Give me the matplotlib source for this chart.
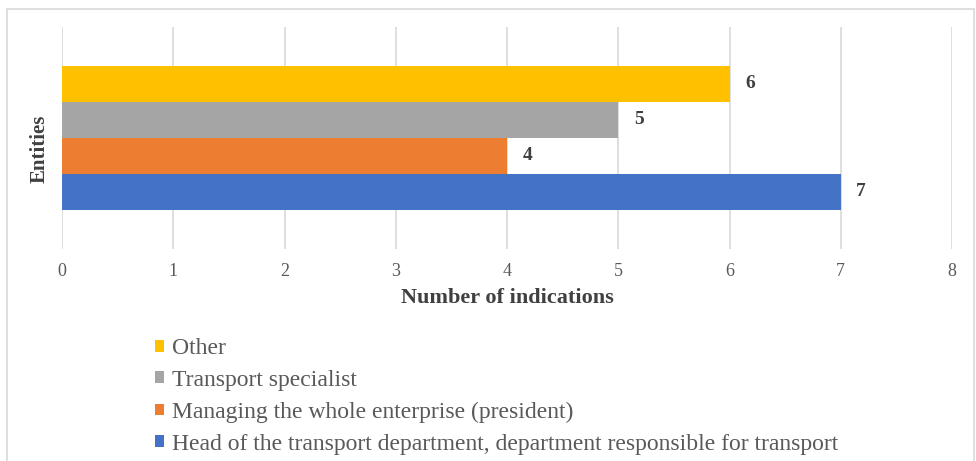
import matplotlib
matplotlib.use("Agg")
import matplotlib.pyplot as plt
from matplotlib.patches import Rectangle

plt.rcParams['font.family'] = ['Liberation Serif', 'DejaVu Serif']

# Series (bottom to top in the bar group)
series = [
    "Head of the transport department, department responsible for transport",
    "Managing the whole enterprise (president)",
    "Transport specialist",
    "Other",
]
values = [7, 4, 5, 6]
colors = ["#4472C4", "#ED7D31", "#A5A5A5", "#FFC000"]
x_ticks = [0, 1, 2, 3, 4, 5, 6, 7, 8]

W, H = 976, 461
fig = plt.figure(figsize=(W / 100, H / 100), dpi=100)

# light frame around the chart area
fig.patches.append(Rectangle((7 / W, -0.02), (974 - 7) / W, 1 - 9 / H + 0.02,
                             transform=fig.transFigure, fill=False,
                             edgecolor="#d9d9d9", linewidth=1.2))

ax = fig.add_axes([62 / W, 1 - 249 / H, (952 - 62) / W, (249 - 27) / H])

bar_h = 36 / 222
n = len(series)
bars = []
for i, (name, v, c) in enumerate(zip(series, values, colors)):
    y = (i - (n - 1) / 2) * bar_h
    b = ax.barh(y, v, height=bar_h, color=c, label=name, zorder=2)
    bars.append(b)
    ax.text(v + 0.14, y, str(v), va="center", ha="left", fontsize=14,
            fontweight="bold", color="#404040")

ax.set_xlim(0, 8)
ax.set_ylim(-0.5, 0.5)
ax.set_xticks(x_ticks)
ax.set_yticks([])
ax.grid(axis="x", color="#d9d9d9", linewidth=1.2, zorder=0)
for s in ax.spines.values():
    s.set_visible(False)
ax.tick_params(axis="x", length=0, labelsize=13, labelcolor="#595959", pad=10)
ax.set_xlabel("Number of indications", fontsize=16, fontweight="bold",
              color="#404040", labelpad=6)
ax.set_ylabel("Entities", fontsize=15, fontweight="bold", color="#404040")
ax.yaxis.set_label_coords(-12 / 890, 0.45)

handles = bars[::-1]
labels = series[::-1]
fig.legend(handles, labels, loc="upper left",
           bbox_to_anchor=(155 / W, 1 - 338 / H), frameon=False,
           fontsize=17, labelcolor="#595959", handlelength=0.4,
           handleheight=0.4, handletextpad=0.3, labelspacing=0.46,
           borderpad=0, borderaxespad=0)

fig.savefig("out.png", dpi=100)
